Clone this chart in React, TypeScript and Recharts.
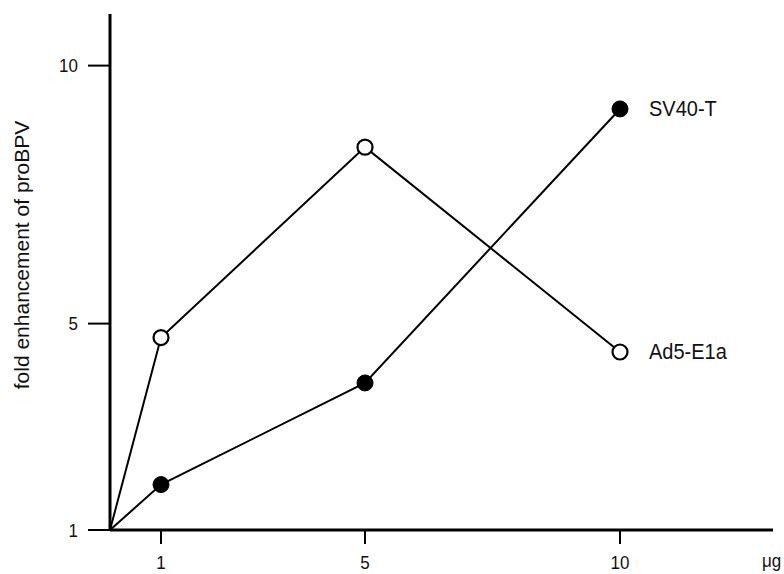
import React from "react";
import { LineChart, Line, XAxis, YAxis, LabelList } from "recharts";

// dose in µg (0 = untreated origin)
const doses = [0, 1, 5, 10];
// fold enhancement of proBPV for each co-transfected construct
const ad5E1a = [1, 4.73, 8.42, 4.45];
const sv40T = [1, 1.88, 3.85, 9.16];

const xTicks = [1, 5, 10];
const yTicks = [1, 5, 10];

const rows = doses.map((d, i) => ({ dose: d, ad5: ad5E1a[i], sv40: sv40T[i] }));

const FONT = "'Liberation Sans', Arial, Helvetica, sans-serif";
const INK = "#111";
const last = doses.length - 1;

// text slightly stretched vertically, like the printed figure
const Txt = ({ x, y, anchor = "start", size = 17, children }: any) => (
  <text
    transform={`translate(${x} ${y}) scale(1 1.12)`}
    textAnchor={anchor}
    dy="0.36em"
    fontSize={size}
    fontFamily={FONT}
    fill={INK}
  >
    {children}
  </text>
);

const XTick = (p: any) => (
  <Txt x={p.x} y={562} anchor="middle">
    {p.payload.value}
  </Txt>
);

const YTick = (p: any) => (
  <Txt x={78} y={p.y} anchor="end">
    {p.payload.value}
  </Txt>
);

const endLabel = (name: string) => (props: any) => {
  if (props.index !== last) return null;
  return (
    <Txt x={Number(props.x) + 29} y={Number(props.y) - 1} size={20}>
      {name}
    </Txt>
  );
};

// no marker at the origin, only at the measured doses
const marker = (filled: boolean) => (p: any) => {
  if (p.index === 0) return <g key={`m-${p.index}`} />;
  return (
    <circle
      key={`m-${p.index}`}
      cx={p.cx}
      cy={p.cy}
      r={filled ? 8 : 7.5}
      fill={filled ? "#000" : "#fff"}
      stroke="#000"
      strokeWidth={filled ? 1 : 2.2}
    />
  );
};

const App: React.FC = () => {
  return (
    <div style={{ position: "absolute", left: 0, top: 0, background: "#fff" }}>
      <LineChart
        width={784}
        height={574}
        data={rows}
        margin={{ top: 14, right: 11, left: 0, bottom: 0 }}
      >
        <XAxis
          dataKey="dose"
          type="number"
          domain={[0, 13]}
          ticks={xTicks}
          height={44}
          tickSize={14}
          axisLine={{ stroke: "#000", strokeWidth: 3 }}
          tickLine={{ stroke: "#000", strokeWidth: 2 }}
          tick={<XTick />}
          label={{
            content: () => (
              <Txt x={762} y={560}>
                μg
              </Txt>
            ),
          }}
        />
        <YAxis
          type="number"
          domain={[1, 11]}
          ticks={yTicks}
          width={110}
          tickSize={22}
          axisLine={{ stroke: "#000", strokeWidth: 3 }}
          tickLine={{ stroke: "#000", strokeWidth: 2 }}
          tick={<YTick />}
          label={{
            content: () => (
              <text
                x={0}
                y={0}
                transform="translate(29 255) rotate(-90)"
                textAnchor="middle"
                fontSize={21}
                fontFamily={FONT}
                fill={INK}
              >
                fold enhancement of proBPV
              </text>
            ),
          }}
        />
        <Line
          dataKey="ad5"
          stroke="#000"
          strokeWidth={2}
          dot={marker(false)}
          activeDot={false}
          isAnimationActive={false}
        >
          <LabelList dataKey="ad5" content={endLabel("Ad5-E1a")} />
        </Line>
        <Line
          dataKey="sv40"
          stroke="#000"
          strokeWidth={2}
          dot={marker(true)}
          activeDot={false}
          isAnimationActive={false}
        >
          <LabelList dataKey="sv40" content={endLabel("SV40-T")} />
        </Line>
      </LineChart>
    </div>
  );
};

export default App;
